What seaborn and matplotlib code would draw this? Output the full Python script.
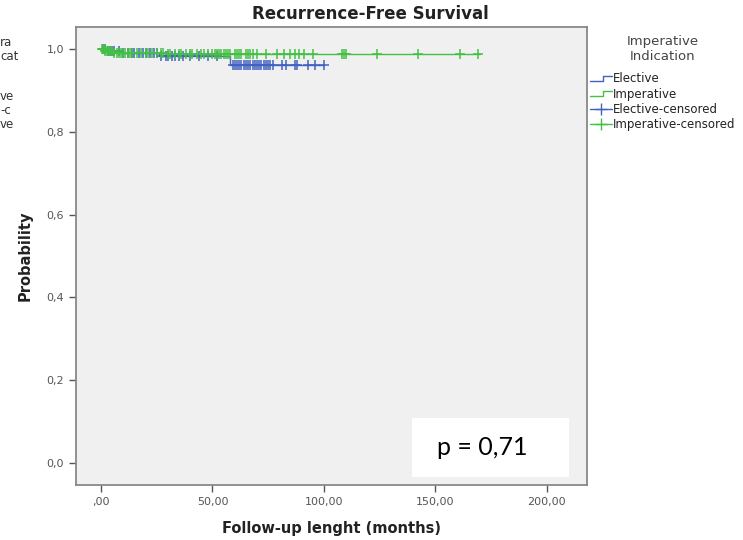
import numpy as np
import matplotlib
matplotlib.use("Agg")
import matplotlib.pyplot as plt
import seaborn as sns
from matplotlib.lines import Line2D
from matplotlib.patches import Rectangle
from matplotlib.legend_handler import HandlerBase

# ── DATA ────────────────────────────────────────────────────
# Kaplan-Meier step curves: time of each step and level after it
elective_times = [0, 3, 9, 26, 58, 100]
elective_surv = [1.0, 0.995, 0.99, 0.983, 0.962, 0.962]
imperative_times = [0, 2, 6, 30, 170]
imperative_surv = [1.0, 0.995, 0.99, 0.987, 0.987]

# censored observations (months)
elective_censor = [1, 2, 3, 4, 5, 6, 8, 10, 12, 14, 15, 17, 19, 20, 22, 24, 25,
                   27, 29, 30, 32, 33, 35, 37, 40, 44, 48, 52, 59, 60, 61, 62,
                   63, 64, 65, 66, 67, 68, 69, 70, 71, 72, 73, 74, 75, 76, 77,
                   81, 83, 87, 88, 93, 96, 100]
imperative_censor = [0.5, 1, 1.5, 2, 2.5, 3, 3.5, 4, 5, 6, 7, 8, 9, 10, 11, 12,
                     13, 14, 16, 18, 20, 21, 23, 25, 27, 28, 30, 31, 33, 35, 36,
                     38, 40, 41, 43, 45, 46, 48, 50, 51, 52, 53, 54, 55, 56, 57,
                     58, 60, 61, 62, 63, 65, 66, 67, 68, 70, 74, 79, 82, 85, 87,
                     89, 91, 95, 108, 109, 110, 124, 142, 161, 169]

x_ticks = [0, 50, 100, 150, 200]
x_ticklabels = [",00", "50,00", "100,00", "150,00", "200,00"]
y_ticks = [0.0, 0.2, 0.4, 0.6, 0.8, 1.0]
y_ticklabels = ["0,0", "0,2", "0,4", "0,6", "0,8", "1,0"]
legend_labels = ["Elective", "Imperative", "Elective-censored", "Imperative-censored"]
p_text = "p = 0,71"
# fragments of a second legend cut off at the left edge of the picture
left_fragments = ["ra", "cat", "ve", "-c", "ve"]

BLUE = "#4262C2"
GREEN = "#44C044"

sns.set_theme(style="ticks")
plt.rcParams["font.family"] = ["DejaVu Sans"]


def level_at(times, surv, t):
    idx = np.searchsorted(times, t, side="right") - 1
    return np.asarray(surv)[idx]


class StepHandler(HandlerBase):
    """Legend handle drawn as a small step."""
    def create_artists(self, legend, orig_handle, xdescent, ydescent,
                       width, height, fontsize, trans):
        xs = np.array([0, 0.6, 0.6, 1.0]) * width - xdescent
        ys = np.array([0.2, 0.2, 0.8, 0.8]) * height - ydescent
        ln = Line2D(xs, ys, color=orig_handle.get_color(), lw=1)
        ln.set_transform(trans)
        return [ln]


fig = plt.figure(figsize=(7.43, 5.40), dpi=100)
ax = fig.add_axes([76 / 743, 1 - 485 / 540, (587 - 76) / 743, (485 - 27) / 540])
ax.set_facecolor("#F0F0F0")

sns.lineplot(x=elective_times, y=elective_surv, drawstyle="steps-post",
             color=BLUE, lw=1, ax=ax, estimator=None)
sns.lineplot(x=imperative_times, y=imperative_surv, drawstyle="steps-post",
             color=GREEN, lw=1, ax=ax, estimator=None)
sns.scatterplot(x=elective_censor,
                y=level_at(elective_times, elective_surv, elective_censor),
                marker="+", s=50, color=BLUE, linewidth=1.1, ax=ax, zorder=3)
sns.scatterplot(x=imperative_censor,
                y=level_at(imperative_times, imperative_surv, imperative_censor),
                marker="+", s=50, color=GREEN, linewidth=1.1, ax=ax, zorder=4)

ax.set_xlim(-11.2, 218)
ax.set_ylim(-0.053, 1.053)
ax.set_xticks(x_ticks)
ax.set_xticklabels(x_ticklabels)
ax.set_yticks(y_ticks)
ax.set_yticklabels(y_ticklabels)
ax.tick_params(axis="both", labelsize=8, labelcolor="#555555", color="#555555",
               length=5, width=1)
for s in ax.spines.values():
    s.set_color("#888888")
    s.set_linewidth(1.3)
    s.set_visible(True)

ax.set_xlabel("Follow-up lenght (months)", fontsize=10.5, fontweight="bold",
              color="#222222", labelpad=10)
ax.set_ylabel("Probability", fontsize=10.5, fontweight="bold", color="#222222",
              labelpad=10)
fig.text(0.498, 1 - 14 / 540, "Recurrence-Free Survival", ha="center", va="center",
         fontsize=12, fontweight="bold", color="#222222")

# p-value box
ax.add_patch(Rectangle((0.657, 0.017), 0.308, 0.129, transform=ax.transAxes,
                       facecolor="white", edgecolor="none", zorder=5))
ax.text(0.795, 0.082, p_text, transform=ax.transAxes, ha="center", va="center",
        fontsize=18, family=["Lato", "DejaVu Sans"], color="black", zorder=6)

# legend
h_el = Line2D([], [], color=BLUE, lw=1)
h_im = Line2D([], [], color=GREEN, lw=1)
h_elc = Line2D([], [], color=BLUE, lw=1, marker="+", markersize=8)
h_imc = Line2D([], [], color=GREEN, lw=1, marker="+", markersize=8)
leg = fig.legend([h_el, h_im, h_elc, h_imc], legend_labels,
                 handler_map={h_el: StepHandler(), h_im: StepHandler()},
                 loc="upper left", bbox_to_anchor=(590 / 743, 1 - 35 / 540),
                 title="Imperative\nIndication", title_fontsize=9.5, fontsize=8.5,
                 frameon=False, handlelength=1.9, handletextpad=0.05,
                 labelspacing=0.2, borderaxespad=0, borderpad=0)
leg.get_title().set_color("#444444")
leg.get_title().set_multialignment("center")
leg.get_title().set_linespacing(1.15)
leg._legend_box.sep = 7
for t in leg.get_texts():
    t.set_color("#222222")

# remnant legend text at the left edge
frag_y = [43, 57, 96, 110, 124]
for s, py in zip(left_fragments, frag_y):
    fig.text(0, 1 - py / 540, s, ha="left", va="center", fontsize=8.5,
             color="#333333")

plt.savefig("out.png", dpi=100)
plt.close()
